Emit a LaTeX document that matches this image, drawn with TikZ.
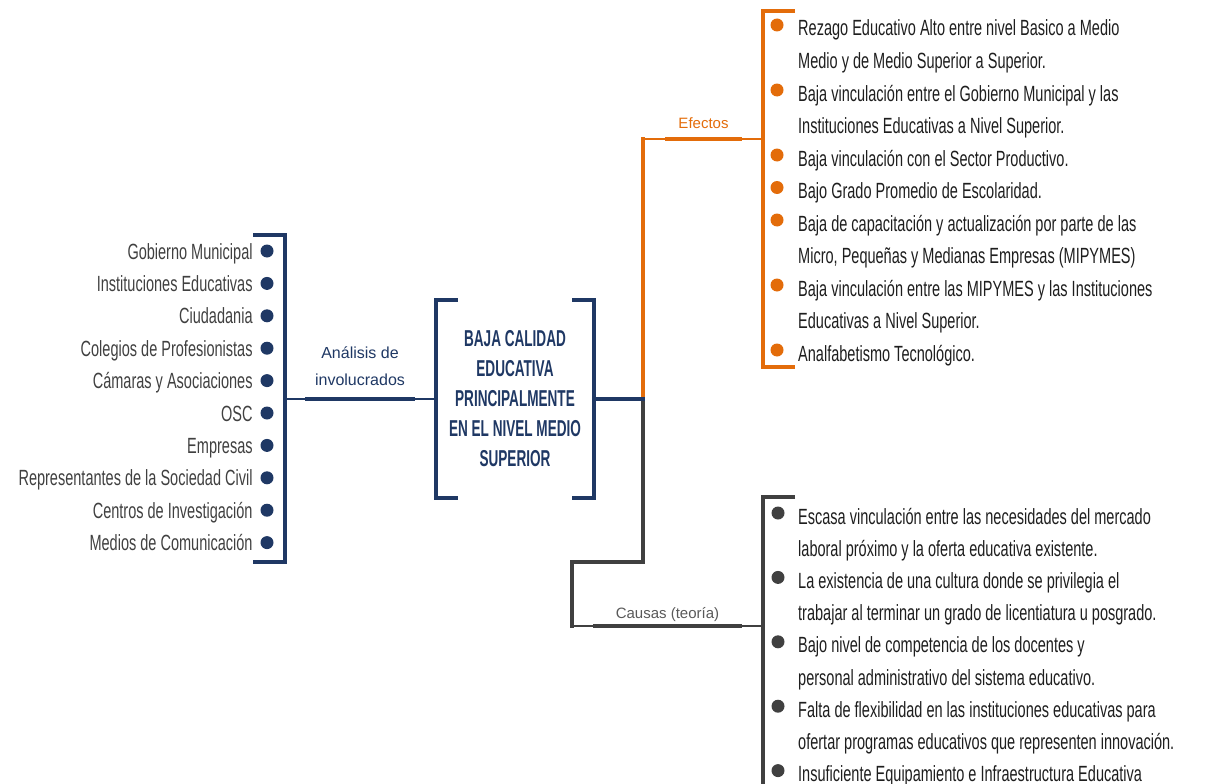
\documentclass[tikz,border=0pt]{standalone}
\usepackage{fontspec}
\setmainfont{Liberation Sans}
\newfontfamily\condfont{Liberation Sans}[FakeStretch=0.66]
\newfontfamily\condbold{Liberation Sans}[FakeStretch=0.59]
\usetikzlibrary{positioning,calc}
\definecolor{navy}{HTML}{1F3864}
\definecolor{efecto}{HTML}{E36C0A}
\definecolor{causa}{HTML}{404040}
\definecolor{leyenda}{HTML}{595959}
\definecolor{tinta}{HTML}{1E1E1E}
\tikzset{
  bracketline/.style={line width=4pt},
  linkthin/.style={line width=2pt},
  linkthick/.style={line width=4pt},
  labelbar/.style={fill=#1, inner sep=0pt, minimum height=4pt},
  bulletdot/.style={circle, fill=#1, inner sep=0pt, minimum size=13pt},
  actor/.style={font=\condfont\fontsize{22}{26}\selectfont, text=causa, inner sep=0pt, text height=16pt, text depth=0pt},
  entry/.style={font=\condfont\fontsize{22}{26}\selectfont, text=tinta, anchor=west, inner sep=0pt, text height=16pt, text depth=0pt},
  tag/.style={font=\fontsize{15}{18}\selectfont, align=center, inner sep=1pt},
  core/.style={font=\condbold\bfseries\fontsize{23}{30}\selectfont, text=navy, align=center, minimum width=158pt, minimum height=198pt, inner sep=0pt}
}

\begin{document}
\begin{tikzpicture}[x=1pt, y=-1pt, line join=miter]
  \useasboundingbox (0,0) rectangle (1210,784);

  % central problem
  \node[core] (problema) at (515,399) {BAJA CALIDAD\\EDUCATIVA\\PRINCIPALMENTE\\EN EL NIVEL MEDIO\\SUPERIOR};
  \draw[bracketline, navy] ([xshift=22pt]problema.north west) -- (problema.north west) -- (problema.south west) -- ++(22,0);
  \draw[bracketline, navy] ([xshift=-22pt]problema.north east) -- (problema.north east) -- (problema.south east) -- ++(-22,0);

  % stakeholders
  \coordinate (lbtop) at (285,235);
  \coordinate (lbbot) at (285,562);
  \coordinate (lbmid) at (285,399);
  \draw[bracketline, navy] ([xshift=-32pt]lbtop) -- (lbtop) -- (lbbot) -- ++(-32,0);
  \foreach \actor [count=\i] in {Gobierno Municipal, Instituciones Educativas, Ciudadania,
      Colegios de Profesionistas, Cámaras y Asociaciones, OSC, Empresas,
      Representantes de la Sociedad Civil, Centros de Investigación, Medios de Comunicación} {
    \node[bulletdot=navy] (ad\i) at (267,{251+32.4*(\i-1)}) {};
    \node[actor, left=7.5pt of ad\i] (act\i) {\actor};
  }
  \draw[linkthin, navy] (lbmid) -- (problema.west);
  \node[labelbar=navy, minimum width=110pt] (barinv) at (360,399) {};
  \node[tag, text=navy, font=\fontsize{16}{27}\selectfont, above=10pt of barinv] (analisis) {Análisis de\\involucrados};

  % effects
  \coordinate (junc) at (643,399);
  \coordinate (efbrk) at (763,139);
  \draw[linkthin, efecto] (junc) |- (efbrk);
  \draw[linkthick, efecto, line cap=rect] (junc) -- (junc |- efbrk);
  \node[labelbar=efecto, minimum width=77pt] (barefe) at (703.5,139) {};
  \node[tag, text=efecto, above=6.5pt of barefe] (efectos) {Efectos};
  \coordinate (eftop) at (763,11);
  \coordinate (efbot) at (763,367);
  \draw[bracketline, efecto] ([xshift=32pt]eftop) -- (eftop) -- (efbot) -- ([xshift=32pt]efbot);
  \foreach \line [count=\i] in {{Rezago Educativo Alto entre nivel Basico a Medio},
      {Medio y de Medio Superior a Superior.},
      {Baja vinculación entre el Gobierno Municipal y las},
      {Instituciones Educativas a Nivel Superior.},
      {Baja vinculación con el Sector Productivo.},
      {Bajo Grado Promedio de Escolaridad.},
      {Baja de capacitación y actualización por parte de las},
      {Micro, Pequeñas y Medianas Empresas (MIPYMES)},
      {Baja vinculación entre las MIPYMES y las Instituciones},
      {Educativas a Nivel Superior.},
      {Analfabetismo Tecnológico.}}
    \node[entry] (ef\i) at (798,{28+32.5*(\i-1)}) {\line};
  \foreach \i in {1,3,5,6,7,9,11}
    \node[bulletdot=efecto] at ([xshift=-21pt, yshift=3pt]ef\i.west) {};

  % causes
  \coordinate (cturn) at (572,562);
  \coordinate (cabrk) at (763,626);
  \draw[linkthick, causa, line cap=rect] (junc) |- (cturn) -- (cturn |- cabrk);
  \draw[linkthin, causa] (cturn |- cabrk) -- (cabrk);
  \node[labelbar=causa, minimum width=149pt] (barcau) at (667.5,626) {};
  \node[tag, text=leyenda, above=1pt of barcau] (causas) {Causas (teoría)};
  \coordinate (catop) at (763,497);
  \coordinate (cabot) at (763,786);
  \draw[bracketline, causa] ([xshift=32pt]catop) -- (catop) -- (cabot);
  \foreach \line [count=\i] in {{Escasa vinculación entre las necesidades del mercado},
      {laboral próximo y la oferta educativa existente.},
      {La existencia de una cultura donde se privilegia el},
      {trabajar al terminar un grado de licentiatura u posgrado.},
      {Bajo nivel de competencia de los docentes y},
      {personal administrativo del sistema educativo.},
      {Falta de flexibilidad en las instituciones educativas para},
      {ofertar programas educativos que representen innovación.},
      {Insuficiente Equipamiento e Infraestructura Educativa}}
    \node[entry] (ca\i) at (798,{516+32.2*(\i-1)}) {\line};
  \foreach \i in {1,3,5,7,9}
    \node[bulletdot=causa] at ([xshift=-20pt, yshift=3pt]ca\i.west) {};

  % main link to the branches
  \draw[linkthick, navy] (problema.east) -- ([xshift=2pt]junc);
\end{tikzpicture}
\end{document}
